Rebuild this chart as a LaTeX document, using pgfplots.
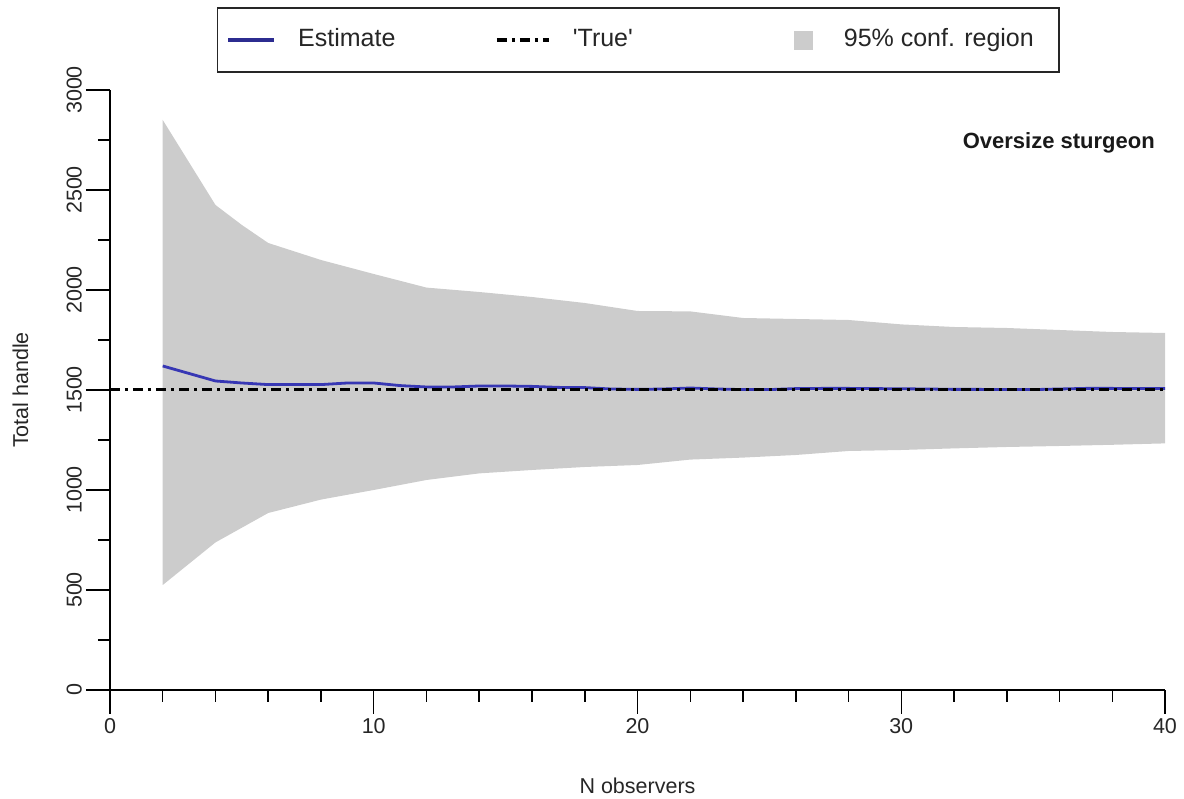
\documentclass[border=0pt]{standalone}
\usepackage{fontspec}
\setmainfont{Liberation Sans}
\usepackage{pgfplots}
\pgfplotsset{compat=1.18}
\definecolor{bandgray}{HTML}{CCCCCC}
\definecolor{estblue}{RGB}{55,55,180}
\begin{document}
\begin{tikzpicture}
\begin{axis}[
  at={(0pt,0pt)}, anchor=south west,
  scale only axis, width=1055pt, height=600pt,
  xmin=0, xmax=40, ymin=0, ymax=3000,
  axis x line*=bottom, axis y line*=left,
  axis line style={line width=1.5pt, -},
  tick align=outside,
  major tick length=24pt, minor tick length=12pt,
  tick style={black, line width=1.5pt},
  xtick={0,10,20,30,40}, minor xtick={2,4,...,38},
  ytick={0,500,...,3000}, minor ytick={250,750,...,2750},
  scaled ticks=false,
  /pgf/number format/1000 sep={},
  /pgf/number format/assume math mode=true,
  ticklabel style={font=\fontsize{21.5}{25}\selectfont, text=black!85},
  yticklabel style={rotate=90, anchor=south, inner sep=4pt},
  xticklabel style={inner sep=4pt},
  xlabel={N observers}, ylabel={Total handle},
  label style={font=\fontsize{21.5}{25}\selectfont, text=black!85},
  xlabel style={at={(axis description cs:0.5,-0.1717)}, anchor=base},
  ylabel style={at={(axis description cs:-0.0777,0.5)}, anchor=base},
  clip=false,
  legend columns=3,
  legend style={at={(axis description cs:0.5005,1.0833)}, anchor=center,
    draw=black!85, line width=1.3pt, inner xsep=9pt, inner ysep=20.5pt,
    column sep=0pt,
    font=\fontsize{25}{30}\selectfont,
    nodes={inner sep=0pt, text height=18pt, text depth=5pt, text=black!85}},
]
\addplot[fill=bandgray, draw=none, forget plot] coordinates {
(2,2850) (4,2425) (5,2325) (6,2235) (8,2150) (10,2080) (12,2012) (14,1990)
(16,1965) (18,1935) (20,1895) (22,1893) (24,1860) (26,1855) (28,1850)
(30,1828) (32,1815) (34,1810) (36,1800) (38,1790) (40,1785)
(40,1233) (38,1226) (36,1220) (34,1215) (32,1208) (30,1200) (28,1195)
(26,1175) (24,1162) (22,1152) (20,1125) (18,1115) (16,1100) (14,1083)
(12,1050) (10,1000) (8,952) (6,885) (4,738) (2,525)
} -- cycle;
\addplot[estblue, line width=2.8pt, forget plot] coordinates {
(2,1620) (4,1545) (5,1535) (6,1527) (7,1527) (8,1527) (9,1535) (10,1535)
(11,1522) (12,1515) (13,1515) (14,1520) (15,1520) (16,1518) (17,1513)
(18,1512) (19,1505) (20,1503) (21,1505) (22,1510) (23,1505) (24,1502)
(25,1502) (26,1507) (27,1508) (28,1508) (29,1507) (30,1506) (31,1505)
(32,1503) (33,1503) (34,1502) (35,1502) (36,1505) (37,1508) (38,1508)
(39,1507) (40,1507)
};
\addplot[black, line width=3pt, dash pattern=on 10pt off 5pt on 3pt off 5pt, forget plot] coordinates {(0,1500) (40,1500)};
\addlegendimage{legend image code/.code={\draw[estblue!80!black, line width=4pt, solid] (0pt,0pt) -- (46pt,0pt); \path[draw=none, fill=none] (0pt,0pt) -- (70pt,0pt);}}
\addlegendentry{\makebox[197pt][l]{Estimate}}
\addlegendimage{legend image code/.code={\draw[black, line width=3.5pt, dash pattern=on 10pt off 5pt on 3pt off 5pt] (0pt,0pt) -- (52pt,0pt); \path[draw=none, fill=none] (0pt,0pt) -- (76pt,0pt);}}
\addlegendentry{\makebox[221pt][l]{\textquotesingle True\textquotesingle}}
\addlegendimage{legend image code/.code={\fill[bandgray, draw=none] (0pt,-9.5pt) rectangle (19pt,9.5pt); \path[draw=none, fill=none] (0pt,0pt) -- (50pt,0pt);}}
\addlegendentry{\makebox[206pt][l]{95\% conf. region}}
\node[anchor=base east, font=\bfseries\fontsize{22}{26}\selectfont, text=black!90, inner sep=0pt] at (axis description cs:0.9905,0.9017) {Oversize sturgeon};
\end{axis}
\pgfresetboundingbox
\path[use as bounding box] (-110pt,-109pt) rectangle (1074pt,690pt);
\end{tikzpicture}
\end{document}
